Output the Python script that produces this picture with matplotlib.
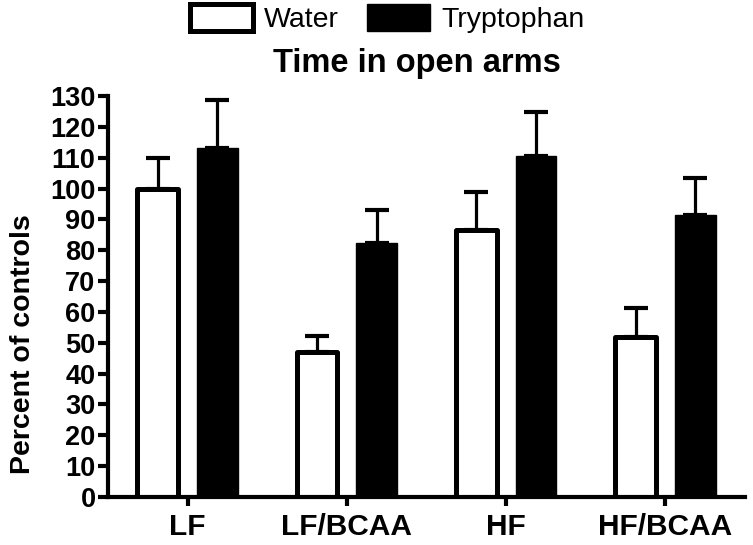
import matplotlib
matplotlib.use("Agg")
import matplotlib.pyplot as plt
import numpy as np

groups = ["LF", "LF/BCAA", "HF", "HF/BCAA"]
water_mean = [100, 47, 86.4, 52]
water_err = [10, 5.3, 12.6, 9.4]
tryp_mean = [113, 82.5, 110.7, 91.5]
tryp_err = [15.7, 10.5, 14, 12]
yticks = list(range(0, 131, 10))

plt.rcParams['font.family'] = ['Liberation Sans', 'DejaVu Sans']

fig = plt.figure(figsize=(7.53, 5.45), dpi=100)
ax = fig.add_axes([108/753, 48/545, 637/753, 401/545])

x = np.arange(len(groups))
w = 0.255
off = 0.1875

bw = ax.bar(x - off, water_mean, w, color='white', edgecolor='black', linewidth=3.6,
            label='Water', joinstyle='round', zorder=2)
bt = ax.bar(x + off, tryp_mean, w, color='black', edgecolor='black', linewidth=1.0,
            label='Tryptophan', zorder=2)
ekw = dict(fmt='none', ecolor='black', elinewidth=2.3, capsize=8.3, capthick=3.0, zorder=1)
ax.errorbar(x - off, water_mean, yerr=[np.zeros(4), water_err], **ekw)
ax.errorbar(x + off, tryp_mean, yerr=[np.zeros(4), tryp_err], **ekw)

ax.set_xlim(-0.5, 3.5)
ax.set_ylim(0, 130)
ax.set_yticks(yticks)
ax.set_xticks(x)
ax.set_xticklabels(groups, fontsize=21.5, fontweight='bold')
for lab in ax.get_yticklabels():
    lab.set_fontsize(19.5)
    lab.set_fontweight('bold')
ax.tick_params(axis='y', direction='out', length=7, width=3, pad=2)
ax.tick_params(axis='x', direction='out', length=6.5, width=3, pad=5)
for s in ['top', 'right']:
    ax.spines[s].set_visible(False)
for s in ['left', 'bottom']:
    ax.spines[s].set_linewidth(3)
    ax.spines[s].set_capstyle('projecting')

ax.set_ylabel('Percent of controls', fontsize=20.5, fontweight='bold')
ax.yaxis.set_label_coords(-0.113, 0.38)

fig.text(417/753, 1 - 63/545, 'Time in open arms', fontsize=23.5, fontweight='bold',
         ha='center', va='center')

leg = fig.legend(handles=[bw, bt], labels=['Water', 'Tryptophan'], ncol=2,
                 loc='upper left', bbox_to_anchor=(190/753, 1 - 4/545),
                 frameon=False, fontsize=20.5, handlelength=2.2, handleheight=1.1,
                 handletextpad=0.4, columnspacing=1.0, borderpad=0, borderaxespad=0)

fig.savefig('out.png', dpi=100)
